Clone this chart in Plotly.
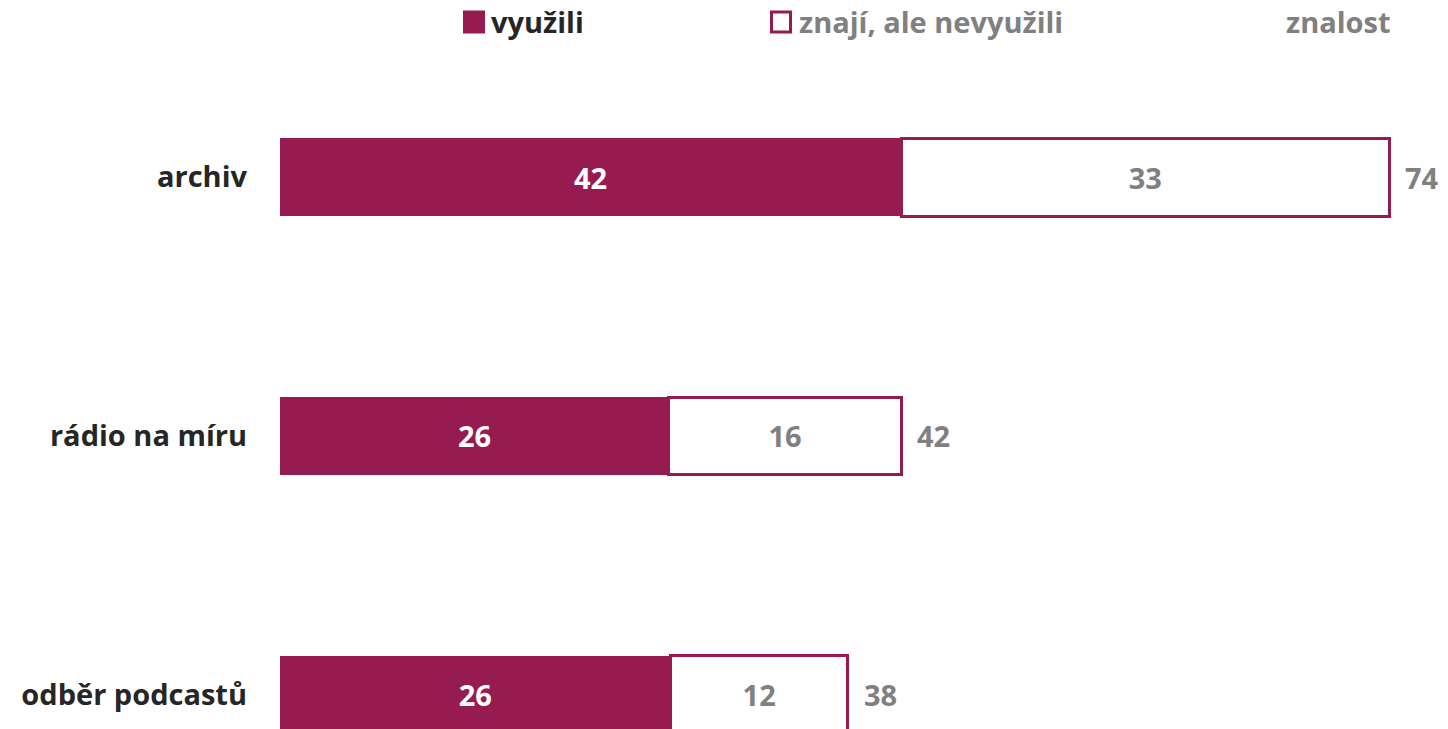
import plotly.graph_objects as go

categories = ["archiv", "rádio na míru", "odběr podcastů"]
vyuzili = [42, 26.3, 26.4]
nevyuzili = [33, 15.7, 12.0]
znalost = [74, 42, 38]
legend_names = ["využili", "znají, ale nevyužili", "znalost"]

CRIMSON = "#961B50"
DARK = "#262626"
GREY = "#808080"
FONT = "Open Sans"
FS = 29

W, H = 1448, 729
ML, MT = 280, 48
PW, PH = W - ML, H - MT

def px_x(px):
    return (px - ML) / PW

def px_y(py):
    return (H - py) / PH

fig = go.Figure()
fig.add_trace(go.Bar(
    y=categories, x=vyuzili, orientation="h", name=legend_names[0],
    marker=dict(color=CRIMSON, line=dict(width=0)),
    text=vyuzili, texttemplate="%{x:.0f}", textposition="inside",
    insidetextanchor="middle", textangle=0,
    textfont=dict(family=FONT, size=FS, color="white", weight=700),
    showlegend=False, hoverinfo="skip",
))
fig.add_trace(go.Bar(
    y=categories, x=nevyuzili, orientation="h", name=legend_names[1],
    marker=dict(color="white", line=dict(color=CRIMSON, width=3)),
    text=nevyuzili, texttemplate="%{x:.0f}", textposition="inside",
    insidetextanchor="middle", textangle=0,
    textfont=dict(family=FONT, size=FS, color=GREY, weight=700),
    showlegend=False, hoverinfo="skip",
))

annotations = []
for c, a, b, t in zip(categories, vyuzili, nevyuzili, znalost):
    annotations.append(dict(
        x=a + b, y=c, xref="x", yref="y", text=str(t), showarrow=False,
        xanchor="left", yanchor="middle", xshift=14,
        font=dict(family=FONT, size=FS, color=GREY, weight=700),
    ))

# legend (drawn manually)
leg_y = 22
legend_items = [
    (463, 489, CRIMSON, CRIMSON, DARK, legend_names[0]),
    (770, 797, "white", CRIMSON, GREY, legend_names[1]),
    (None, 1284, None, None, GREY, legend_names[2]),
]
shapes = []
for sx, tx, fill, line, tcol, name in legend_items:
    if sx is not None:
        shapes.append(dict(
            type="rect", xref="paper", yref="paper",
            xsizemode="pixel", ysizemode="pixel",
            xanchor=px_x(sx), yanchor=px_y(leg_y),
            x0=1.5, x1=20.5, y0=-10, y1=10,
            fillcolor=fill, line=dict(color=line, width=3),
        ))
    annotations.append(dict(
        x=px_x(tx), y=px_y(leg_y), xref="paper", yref="paper",
        text=name, showarrow=False, xanchor="left", yanchor="middle",
        font=dict(family=FONT, size=FS, color=tcol, weight=700),
    ))

fig.update_layout(
    width=W, height=H,
    margin=dict(l=ML, r=0, t=MT, b=0, pad=0),
    barmode="stack", bargap=0.7,
    plot_bgcolor="white", paper_bgcolor="white",
    showlegend=False, hovermode=False,
    annotations=annotations, shapes=shapes,
    xaxis=dict(visible=False, range=[0, PW / 14.79], fixedrange=True),
    yaxis=dict(
        type="category", range=[2.134, -0.5], showgrid=False, zeroline=False,
        showline=False, ticks="", ticklabelstandoff=32, fixedrange=True,
        tickfont=dict(family=FONT, size=FS, color=DARK, weight=700),
    ),
)

fig.write_html(
    "out.html",
    config={"displayModeBar": False},
    post_script="document.body.style.margin='0';document.body.style.overflow='hidden';",
)
